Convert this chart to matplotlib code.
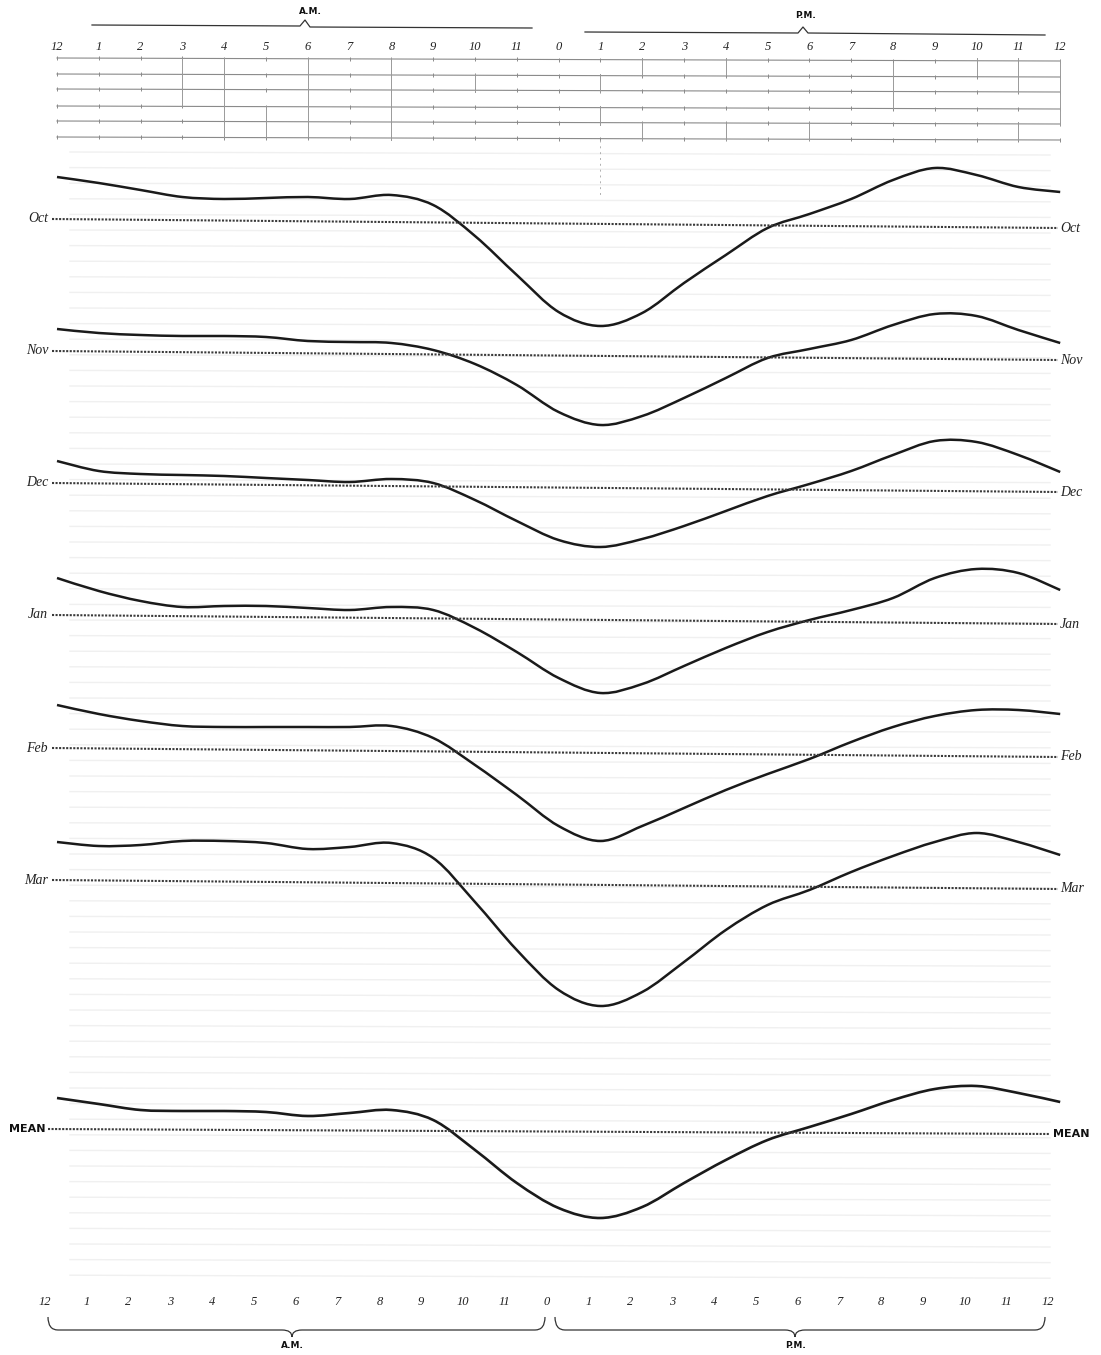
import numpy as np
import matplotlib.pyplot as plt
from matplotlib.path import Path
from matplotlib.patches import PathPatch

# hours after midnight, 0 .. 24
hours = list(range(25))
hour_labels = ['12', '1', '2', '3', '4', '5', '6', '7', '8', '9', '10', '11',
               '0', '1', '2', '3', '4', '5', '6', '7', '8', '9', '10', '11', '12']

months = ['Oct', 'Nov', 'Dec', 'Jan', 'Feb', 'Mar']

# departure from the monthly mean, arbitrary units (up = positive)
oct_vals = [42, 36, 29, 22, 20, 21, 22, 20, 24, 14, -17, -56, -93, -107, -94,
            -64, -36, -9, 5, 20, 39, 51, 44, 32, 27]
nov_vals = [22, 18, 16, 15, 15, 14, 10, 9, 8, 1, -13, -34, -61, -74, -65,
            -47, -27, -7, 2, 11, 26, 37, 35, 21, 8]
dec_vals = [22, 12, 9, 8, 7, 5, 3, 1, 4, 0, -17, -38, -57, -64, -56,
            -43, -28, -13, -1, 12, 28, 42, 41, 28, 11]
jan_vals = [37, 24, 14, 8, 9, 9, 7, 5, 8, 5, -13, -37, -63, -78, -69,
            -51, -33, -17, -5, 5, 17, 37, 46, 42, 25]
feb_vals = [43, 34, 27, 22, 21, 21, 21, 21, 22, 10, -17, -47, -78, -93, -78,
            -60, -42, -26, -11, 6, 21, 32, 38, 38, 34]
mar_vals = [38, 34, 35, 39, 39, 37, 31, 33, 37, 22, -22, -70, -110, -126, -112,
            -82, -50, -25, -10, 8, 24, 38, 47, 38, 25]
mean_vals = [31, 25, 19, 18, 18, 17, 13, 16, 19, 9, -21, -54, -79, -89, -78,
             -54, -31, -11, 2, 15, 29, 40, 43, 36, 27]

series = [oct_vals, nov_vals, dec_vals, jan_vals, feb_vals, mar_vals]

# page layout (pixels)
W, H = 1101, 1355
X0, DX = 57, 41.8            # pixel of hour 0 and pixels per hour
row_y = [219, 351, 483, 615, 748, 880]
mean_y = 1129
tilt = 9                     # the sheet is scanned slightly askew

def hx(px):
    return (px - X0) / DX

def smooth_path(x, y):
    # Catmull-Rom through the points, drawn as cubic Beziers
    x = np.asarray(x, float)
    y = np.asarray(y, float)
    xp = np.r_[x[0], x, x[-1]]
    yp = np.r_[y[0], y, y[-1]]
    verts = [(x[0], y[0])]
    codes = [Path.MOVETO]
    for i in range(len(x) - 1):
        c1 = (xp[i + 1] + (xp[i + 2] - xp[i]) / 6, yp[i + 1] + (yp[i + 2] - yp[i]) / 6)
        c2 = (xp[i + 2] - (xp[i + 3] - xp[i + 1]) / 6, yp[i + 2] - (yp[i + 3] - yp[i + 1]) / 6)
        verts += [c1, c2, (x[i + 1], y[i + 1])]
        codes += [Path.CURVE4] * 3
    return Path(verts, codes)

fig = plt.figure(figsize=(W / 100, H / 100), dpi=100)
ax = fig.add_axes([0, 0, 1, 1])
ax.set_xlim(hx(0), hx(W))
ax.set_ylim(H, 0)
ax.axis('off')

serif = dict(family='Liberation Serif', style='italic', color='#222')
bold = dict(family='DejaVu Sans', weight='bold', color='#111')

# faint ruled lines showing through the paper
for yy in np.arange(152, 1290, 15.6):
    ax.plot([hx(70), hx(1050)], [yy, yy + 3], color='#f0f0f0', lw=1.0, zorder=0)

# ---- header: A.M. / P.M. and hour scale ----
ax.text(hx(310), 11, 'A.M.', fontsize=6.5, ha='center', va='center', **bold)
ax.text(hx(805), 15, 'P.M.', fontsize=6.5, ha='center', va='center', **bold)
ax.plot([hx(92), hx(300), hx(305), hx(310), hx(532)], [25, 26, 20, 27, 28], color='#333', lw=0.9)
ax.plot([hx(585), hx(798), hx(803), hx(808), hx(1045)], [32, 33, 27, 33, 35], color='#333', lw=0.9)

for h, lab in zip(hours, hour_labels):
    ax.text(h, 47, lab, fontsize=9, ha='center', va='center', **serif)

table_rows = [58, 74, 89, 106, 121, 137]
for yy in table_rows:
    ax.plot([0, 24], [yy, yy + 3], color='#8a8a8a', lw=0.8)
    ax.plot(hours, [yy + 3 * h / 24 for h in hours], ls='none', marker='|',
            ms=3, color='#8a8a8a', mew=0.7)
table_ticks = [(3, 58, 106), (4, 58, 137), (5, 106, 137), (6, 58, 137), (8, 58, 140),
               (10, 74, 92), (13, 74, 92), (13, 106, 125), (14, 58, 75), (14, 122, 140),
               (16, 58, 75), (16, 122, 140), (18, 122, 140), (20, 63, 108),
               (22, 58, 75), (23, 58, 92), (23, 122, 140), (24, 60, 125)]
for h, y0, y1 in table_ticks:
    ax.plot([h, h], [y0, y1], color='#9a9a9a', lw=0.7)
ax.plot([13, 13], [140, 195], color='#b0b0b0', lw=0.7, ls=(0, (2, 4)))

# ---- monthly curves ----
for name, vals, b in zip(months, series, row_y):
    ax.plot([hx(52), hx(1058)], [b, b + tilt], color='#3a3a3a', lw=1.5,
            ls=(0, (1.0, 0.7)))
    ax.text(hx(48), b, name, fontsize=10, ha='right', va='center', **serif)
    ax.text(hx(1060), b + tilt, name, fontsize=10, ha='left', va='center', **serif)
    yy = [b - v for v in vals]
    ax.add_patch(PathPatch(smooth_path(hours, yy), fill=False, ec='#1a1a1a', lw=1.8))

# ---- mean curve ----
ax.plot([hx(48), hx(1050)], [mean_y, mean_y + 5], color='#3a3a3a', lw=1.5,
        ls=(0, (1.0, 0.7)))
ax.text(hx(46), mean_y, 'MEAN', fontsize=8, ha='right', va='center', **bold)
ax.text(hx(1053), mean_y + 5, 'MEAN', fontsize=8, ha='left', va='center', **bold)
ax.add_patch(PathPatch(smooth_path(hours, [mean_y - v for v in mean_vals]),
                       fill=False, ec='#1a1a1a', lw=1.9))

# ---- footer: hour scale and braces ----
for h, lab in zip(hours, hour_labels):
    ax.text(h - 12 / DX, 1302, lab, fontsize=9, ha='center', va='center', **serif)

def brace(x0, x1, xm, y, dy):
    verts = [(hx(x0), y - dy), (hx(x0), y), (hx(x0 + 10), y), (hx(xm - 10), y),
             (hx(xm), y), (hx(xm), y + 7), (hx(xm), y + 7), (hx(xm), y),
             (hx(xm + 10), y), (hx(x1 - 10), y), (hx(x1), y), (hx(x1), y - dy)]
    codes = [Path.MOVETO, Path.CURVE3, Path.CURVE3, Path.LINETO,
             Path.CURVE3, Path.CURVE3, Path.MOVETO, Path.CURVE3, Path.CURVE3,
             Path.LINETO, Path.CURVE3, Path.CURVE3]
    ax.add_patch(PathPatch(Path(verts, codes), fill=False, ec='#333', lw=0.9))

brace(48, 545, 292, 1330, 13)
brace(555, 1045, 795, 1330, 13)
ax.text(hx(292), 1346, 'A.M.', fontsize=6.5, ha='center', va='center', **bold)
ax.text(hx(795), 1346, 'P.M.', fontsize=6.5, ha='center', va='center', **bold)

fig.savefig('out.png', dpi=100, facecolor='white')
